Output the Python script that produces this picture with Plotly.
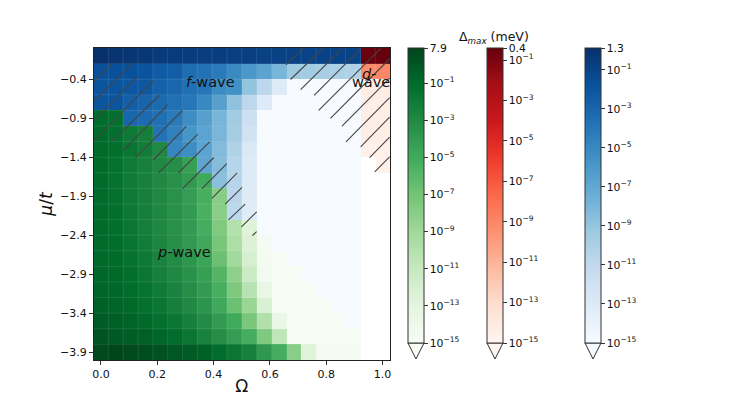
import plotly.graph_objects as go

W = 747
H = 404
N = None

omega = [i / 19 for i in range(20)]
mu = [-0.1, -0.3, -0.5, -0.7, -0.9, -1.1, -1.3, -1.5, -1.7, -1.9,
      -2.1, -2.3, -2.5, -2.7, -2.9, -3.1, -3.3, -3.5, -3.7, -3.9]

# log10 of the gap per phase, one row per mu, top row first
f_wave = [
    [0.1, -0.1, -0.2, -0.3, -0.5, -0.5, -0.6, -0.7, -0.7, -0.8, -0.8, -0.9, -0.9, -0.9, -1.0, -1.0, -1.0, -1.0],
    [-1.7, -1.7, -1.8, -1.9, -2.4, -2.5, -3.4, -3.7, -4.2, -5.1, -5.9, -6.7, -7.9, -9.3, -9.5, -9.8, -10.0, -10.2],
    [-2.0, -2.0, -2.1, -2.2, -2.8, -3.1, -3.6, -4.0, -5.2, -5.5, -8.9, -10.8, -13.0, -15, -15, -15, -15, -15],
    [-2.0, -2.0, -2.6, -2.9, -3.2, -3.6, -4.0, -5.0, -6.5, -8.8, -10.8, -13.0, -15, -15, -15, -15, -15, -15],
    [N, N, -3.0, -3.3, -3.6, -4.2, -5.3, -6.5, -7.9, -9.5, -11.8, -15, -15, -15, -15, -15, -15, -15],
    [N, N, N, N, -3.7, -4.6, -5.8, -6.7, -8.0, -9.6, -12.1, -15, -15, -15, -15, -15, -15, -15],
    [N, N, N, N, N, -4.8, -5.3, -6.7, -8.3, -10.2, -12.9, -15, -15, -15, -15, -15, -15, -15],
    [N, N, N, N, N, N, N, -6.8, -8.4, -10.5, -13.0, -15, -15, -15, -15, -15, -15, -15],
    [N, N, N, N, N, N, N, N, -8.6, -10.5, -13.0, -15, -15, -15, -15, -15, -15, -15],
    [N, N, N, N, N, N, N, N, N, -10.7, -13.1, -15, -15, -15, -15, -15, -15, -15],
    [N, N, N, N, N, N, N, N, N, -10.8, -13.2, -15, -15, -15, -15, -15, -15, -15],
    [N, N, N, N, N, N, N, N, N, N, N, -15, -15, -15, -15, -15, -15, -15],
    [N, N, N, N, N, N, N, N, N, N, N, N, -15, -15, -15, -15, -15, -15],
    [N, N, N, N, N, N, N, N, N, N, N, N, N, -15, -15, -15, -15, -15],
    [N, N, N, N, N, N, N, N, N, N, N, N, N, N, -15, -15, -15, -15],
    [N, N, N, N, N, N, N, N, N, N, N, N, N, N, N, -15, -15, -15],
    [N, N, N, N, N, N, N, N, N, N, N, N, N, N, N, N, -15, -15],
    [N, N, N, N, N, N, N, N, N, N, N, N, N, N, N, N, N, -15],
    [],
    [],
]

p_wave = [
    [],
    [],
    [],
    [],
    [-1.1, -1.3],
    [-1.0, -1.3, -1.9, -2.2],
    [-1.0, -1.2, -1.7, -2.1, -2.9],
    [-1.0, -1.4, -2.0, -2.4, -2.9, -3.2, -4.3],
    [-1.0, -1.4, -2.0, -2.4, -2.9, -3.4, -4.0, -5.0],
    [-1.0, -1.3, -1.9, -2.3, -2.9, -3.5, -4.2, -5.3, -7.9],
    [-1.0, -1.2, -1.8, -2.2, -2.8, -3.4, -4.1, -5.4, -8.0],
    [-1.0, -1.2, -1.7, -2.2, -2.8, -3.4, -4.1, -5.2, -7.6, -10.0, -12.6],
    [-1.0, -1.1, -1.6, -2.1, -2.7, -3.3, -4.0, -4.9, -7.2, -9.6, -12.4, -14.7],
    [-0.9, -1.0, -1.4, -1.9, -2.5, -3.1, -3.8, -4.6, -6.7, -9.1, -12.0, -14.6, -14.9],
    [-0.8, -0.9, -1.2, -1.7, -2.3, -2.8, -3.5, -4.3, -5.8, -8.2, -11.3, -14.3, -14.9, -15],
    [-0.7, -0.8, -1.1, -1.5, -2.0, -2.5, -3.2, -4.1, -5.3, -7.5, -10.2, -13.4, -14.9, -14.9, -14.9],
    [-0.5, -0.6, -0.9, -1.3, -1.7, -2.2, -2.9, -3.7, -4.9, -6.7, -8.7, -12.2, -14.9, -14.9, -14.9, -14.9],
    [-0.2, -0.4, -0.6, -0.9, -1.3, -1.7, -2.3, -3.1, -4.1, -5.0, -7.3, -9.9, -13.6, -14.9, -14.9, -14.9, -14.9],
    [0.1, -0.1, -0.3, -0.5, -0.8, -1.1, -1.7, -2.5, -3.2, -4.2, -5.2, -7.6, -10.6, -14.9, -14.9, -14.9, -14.9, -14.9],
    [0.6, 0.8, 0.6, 0.4, 0.2, 0.0, -0.2, -0.5, -1.1, -1.7, -2.4, -3.9, -5.2, -8.0, -12.6, -14.8, -14.8, -14.8],
]

# d-wave only lives in the last two columns
d_wave_col18 = [-0.5, -9.2, -14.3, -14.4, -14.4, -14.4, -14.6, N]
d_wave_col19 = [-0.4, -9.0, -14.3, -14.4, -14.4, -14.4, -14.6, -14.7]

# hatch strokes (omega, mu at both ends)
hatch_om0 = [-0.026, -0.026, -0.026, -0.026, 0.036, 0.077, 0.122, 0.185, 0.205, 0.275, 0.290, 0.359, 0.394, 0.441, 0.453, 0.499, 0.538,
             0.657, 0.673, 0.709, 0.757, 0.773, 0.815, 0.856, 0.870, 0.922, 0.954, 0.972]
hatch_mu0 = [-0.430, -0.688, -0.936, -1.190, -1.203, -1.323, -1.409, -1.439, -1.602, -1.602, -1.803, -1.803, -1.928, -2.001, -2.203, -2.293, -2.404,
             -0.215, -0.404, -0.533, -0.606, -0.799, -0.902, -1.001, -1.203, -1.267, -1.404, -1.589]
hatch_om1 = [0.041, 0.112, 0.131, 0.185, 0.208, 0.237, 0.290, 0.303, 0.344, 0.386, 0.401, 0.447, 0.484, 0.501, 0.512, 0.553, 0.553,
             0.716, 0.787, 0.856, 0.922, 0.993, 1.025, 1.025, 1.025, 1.025, 1.025, 1.025]
hatch_mu1 = [-0.198, -0.198, -0.357, -0.421, -0.606, -0.730, -0.799, -1.005, -1.104, -1.203, -1.404, -1.482, -1.602, -1.786, -2.001, -2.100, -2.353,
             -0.009, -0.009, -0.009, -0.009, -0.009, -0.138, -0.387, -0.636, -0.885, -1.142, -1.396]

green_top = 0.898
red_top = -0.398
blue_top = 0.114
green_top_label = "7.9"
red_top_label = "0.4"
blue_top_label = "1.3"
decades = [-15, -13, -11, -9, -7, -5, -3, -1]

greens = ["#f7fcf5", "#e5f5e0", "#c7e9c0", "#a1d99b", "#74c476", "#41ab5d", "#238b45", "#006d2c", "#00441b"]
reds = ["#fff5f0", "#fee0d2", "#fcbba1", "#fc9272", "#fb6a4a", "#ef3b2c", "#cb181d", "#a50f15", "#67000d"]
blues = ["#f7fbff", "#deebf7", "#c6dbef", "#9ecae1", "#6baed6", "#4292c6", "#2171b5", "#08519c", "#08306b"]

FONT = "DejaVu Sans"
BAR_TOP = 48
BAR_BOTTOM = 343
TIP = 359
BAR_W = 16


def pad(rows):
    return [r + [None] * (20 - len(r)) for r in rows]


def tick_text(v):
    return "10<sup>\u2212%d</sup>" % abs(v)


def add_phase(fig, z, colors, top, top_label, left):
    ticks = decades + [top]
    labels = [tick_text(v) for v in decades] + [top_label]
    fig.add_trace(go.Heatmap(
        x=omega, y=mu, z=z,
        colorscale=colors, zmin=-15, zmax=top,
        hoverongaps=False,
        colorbar=dict(
            x=left / W, xanchor="left", xpad=0,
            y=1 - BAR_TOP / H, yanchor="top", ypad=0,
            lenmode="pixels", len=BAR_BOTTOM - BAR_TOP,
            thicknessmode="pixels", thickness=BAR_W,
            outlinewidth=1, outlinecolor="#333",
            tickmode="array", tickvals=ticks, ticktext=labels,
            ticks="outside", ticklen=3.5, tickwidth=0.8, tickcolor="#333",
            tickfont=dict(family=FONT, size=10.8, color="#111"),
        ),
    ))
    # the extend="min" arrow under the colorbar
    fig.add_shape(
        type="path", xref="paper", yref="paper",
        path="M %f %f L %f %f L %f %f Z" % (
            left / W, 1 - BAR_BOTTOM / H,
            (left + BAR_W / 2) / W, 1 - TIP / H,
            (left + BAR_W) / W, 1 - BAR_BOTTOM / H),
        fillcolor=colors[0], line=dict(color="#333", width=1),
    )


fig = go.Figure()
add_phase(fig, pad(p_wave), greens, green_top, green_top_label, 408)
add_phase(fig, [[None] * 18 + [a, b] for a, b in zip(d_wave_col18 + [N] * 12, d_wave_col19 + [N] * 12)],
          reds, red_top, red_top_label, 487)
add_phase(fig, pad(f_wave), blues, blue_top, blue_top_label, 585)

# faint seams between the cells, pcolormesh leaves these
half_x = (omega[1] - omega[0]) / 2
half_y = (mu[0] - mu[1]) / 2
sx, sy = [], []
for o in omega[1:]:
    sx += [o - half_x, o - half_x, None]
    sy += [mu[-1] - half_y, mu[0] + half_y, None]
for m in mu[1:]:
    sx += [omega[0] - half_x, omega[-1] + half_x, None]
    sy += [m + half_y, m + half_y, None]
fig.add_trace(go.Scatter(x=sx, y=sy, mode="lines", line=dict(color="rgba(255,255,255,0.1)", width=1),
                         hoverinfo="skip", showlegend=False))

# hatching for the coexistence region
hx, hy = [], []
for a, b, c, d in zip(hatch_om0, hatch_mu0, hatch_om1, hatch_mu1):
    hx += [a, c, None]
    hy += [b, d, None]
fig.add_trace(go.Scatter(x=hx, y=hy, mode="lines", line=dict(color="#444444", width=1.1),
                         hoverinfo="skip", showlegend=False))


def label(text, x, y):
    fig.add_annotation(x=x, y=y, text=text, showarrow=False,
                       font=dict(family=FONT, size=14.5, color="#111"))


label("<i>f</i>-wave", 0.39, -0.43)
label("<i>p</i>-wave", 0.295, -2.62)
label("<i>d</i>-", 0.95, -0.33)
label("wave", 0.96, -0.44)

axis_style = dict(
    showline=True, mirror=True, linecolor="#222", linewidth=1,
    ticks="outside", ticklen=3.5, tickwidth=0.8, tickcolor="#333",
    showgrid=False, zeroline=False,
    tickfont=dict(family=FONT, size=11, color="#111"),
)

fig.update_layout(
    autosize=False,
    width=W,
    height=H,
    margin=dict(l=0, r=0, t=0, b=0, autoexpand=False),
    paper_bgcolor="white",
    plot_bgcolor="white",
    showlegend=False,
    xaxis=dict(
        domain=[93.5 / W, 390 / W], range=[-1 / 38, 1 + 1 / 38],
        tickvals=[0, 0.2, 0.4, 0.6, 0.8, 1.0], ticktext=["0.0", "0.2", "0.4", "0.6", "0.8", "1.0"],
        title=dict(text="\u03a9", font=dict(family=FONT, size=17, color="#111"), standoff=0),
        **axis_style,
    ),
    yaxis=dict(
        domain=[1 - 360 / H, 1 - 48 / H], range=[-4.0, 0.0],
        tickvals=[-0.4, -0.9, -1.4, -1.9, -2.4, -2.9, -3.4, -3.9],
        ticktext=["\u22120.4", "\u22120.9", "\u22121.4", "\u22121.9", "\u22122.4", "\u22122.9", "\u22123.4", "\u22123.9"],
        title=dict(text="<i>\u03bc</i>/<i>t</i>", font=dict(family=FONT, size=17, color="#111"), standoff=3),
        **axis_style,
    ),
)

fig.add_annotation(x=494 / W, y=1 - 38 / H, xref="paper", yref="paper",
                   xanchor="center", yanchor="middle",
                   text="\u0394<sub><i>max</i></sub> (meV)", showarrow=False,
                   font=dict(family=FONT, size=12.5, color="#111"))

fig.write_html("out.html", config={"displayModeBar": False},
               post_script="document.body.style.margin='0';")
